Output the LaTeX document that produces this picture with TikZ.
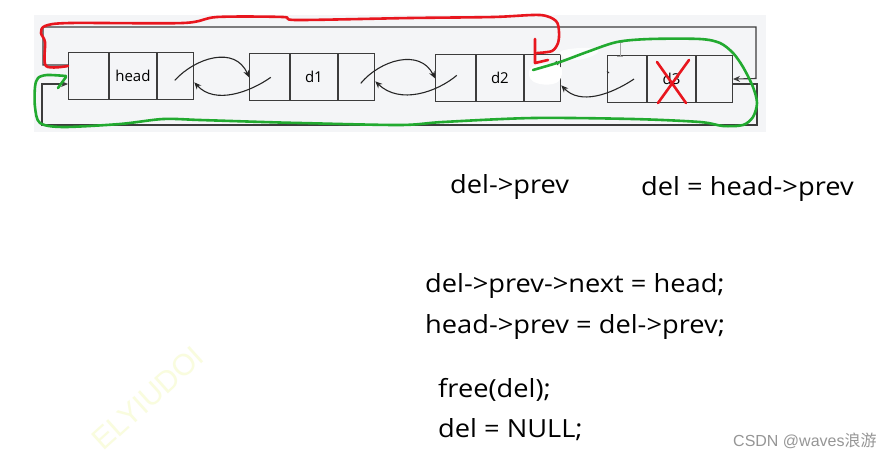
\documentclass[tikz,border=0pt]{standalone}
\usepackage{fontspec}
\setmainfont{Open Sans}
\newfontfamily\codefont[FakeStretch=1.09]{Open Sans}
\newfontfamily\wmfont{Liberation Sans}
\newfontfamily\cjkfont{Noto Sans CJK SC}
\usetikzlibrary{arrows.meta,calc}
\definecolor{panel}{RGB}{244,245,247}
\definecolor{boxline}{RGB}{60,60,60}
\definecolor{penred}{RGB}{232,22,30}
\definecolor{pengreen}{RGB}{34,170,48}
\definecolor{wmgray}{RGB}{150,150,150}
\definecolor{wmyellow}{RGB}{249,252,222}
\tikzset{
  cell/.style={draw=boxline, line width=1.1pt, inner sep=0pt, minimum height=47pt, anchor=north west, font=\fontsize{15}{15}\selectfont},
  pcell/.style={cell, minimum width=39.5pt},
  dcell/.style={cell, minimum width=47.5pt},
  ncell/.style={cell, minimum width=36pt},
  ptr/.style={draw=black!85, line width=1.1pt, -{Stealth[length=7pt,width=6pt]}},
  loopline/.style={draw=boxline, line width=1.1pt},
  redpen/.style={draw=penred, line width=2.6pt, line cap=round, line join=round},
  greenpen/.style={draw=pengreen, line width=2.6pt, line cap=round, line join=round},
  code/.style={anchor=base west, inner sep=0pt, font=\codefont\fontsize{25}{25}\selectfont}
}
\begin{document}
\begin{tikzpicture}[x=1pt,y=-1pt]
\useasboundingbox (0,0) rectangle (889,459);
\fill[white] (0,0) rectangle (889,459);
% panel
\fill[panel] (34,15) rectangle (766,132);
% watermark
\node[rotate=42, text=wmyellow, font=\wmfont\fontsize{30}{30}\selectfont, inner sep=0pt] (wm) at (148,398) {ELYIUDOI};
% cells
\node[pcell] (hp) at (68,52.3) {};
\node[dcell] (hd) at (hp.north east) {head};
\node[ncell] (hn) at (hd.north east) {};
\node[pcell] (ap) at (249,53.3) {};
\node[dcell] (ad) at (ap.north east) {d1};
\node[ncell] (an) at (ad.north east) {};
\node[pcell] (bp) at (435,54.3) {};
\node[dcell] (bd) at (bp.north east) {d2};
\node[ncell] (bn) at (bd.north east) {};
\node[pcell] (cp) at (606.7,55) {};
\node[dcell] (cd) at (cp.north east) {d3};
\node[ncell] (cn) at (cd.north east) {};
% outer loops
\coordinate (tl) at (43,65);
\coordinate (bl) at (42,84);
\draw[loopline, -{Stealth[length=7pt,width=6pt]}] (hp.west |- tl) -- (tl) -- (43,27) -- (756,27) -- (756,78.5) -- (cn.east);
\draw[loopline, -{Stealth[length=7pt,width=6pt]}] (cn.east |- bl) -- (757,84) -- (757,125) -- (42,125) -- (bl) -- (hp.west |- bl);
% pointers
\draw[ptr] ([shift={(-1,4)}]hn.center) .. controls (195,58) and (235,45) .. (ap.west);
\draw[ptr] ([shift={(1.5,0)}]ap.center) .. controls (250,92) and (215,105) .. ([yshift=-6pt]hn.east);
\draw[ptr] ([shift={(4,6)}]an.center) .. controls (380,60) and (420,48) .. (bp.west);
\draw[ptr] ([shift={(1.5,-3)}]bp.center) .. controls (437,92) and (400,105) .. ([yshift=-4pt]an.east);
\draw[ptr] ([shift={(7,0)}]cp.center) .. controls (610,95) and (580,105) .. ([yshift=-7pt]bn.east);
% erased patch
\fill[white] plot[smooth cycle, tension=0.7] coordinates {(531,68) (545,64) (559,66) (562,74) (556,83) (540,84) (530,78)};
\fill[white, opacity=0.8] plot[smooth cycle, tension=0.7] coordinates {(560,52) (580,48) (598,50) (590,57) (570,60)};
% remnants
\draw[black!80, line width=1pt] (556,61) -- (558,65);
\draw[black!80, line width=1pt] (607,71) -- (609,73);
% cursor
\draw[gray!70, line width=1pt] (620,42) -- (620,56) (617,42) -- (623,42) (617,56) -- (623,56);
% red strokes
\draw[redpen] plot[smooth, tension=0.5] coordinates {(68,66) (46,66) (45,42) (41,33) (45,26) (70,23) (183,23) (217,17) (283,17) (297,20) (410,18) (493,17) (540,15) (556,21) (559,32) (558,43) (552,51) (537,53)};
\draw[redpen] (535,39) -- (535,63) -- (548,60);
\draw[redpen] (657,62) -- (686,103);
\draw[redpen] (689,60) -- (658,103);
% green stroke
\draw[greenpen] plot[smooth, tension=0.5] coordinates {(533,70) (560,62) (587,52) (617,42) (650,39) (700,39) (720,43) (733,53) (743,67) (753,87) (757,103) (753,117) (743,125) (723,126) (700,122) (633,119) (533,118) (443,122) (400,125) (300,123) (263,122) (200,120) (163,119) (120,124) (63,127) (40,123) (35,107) (35,87) (38,78) (47,75) (66,76)};
\draw[greenpen] (66,77) -- (58,88);
% texts
\node[code] (t1) at (450,193) {del->prev};
\node[code] (t2) at (641,195) {del = head->prev};
\node[code] (t3) at (425,292) {del->prev->next = head;};
\node[code] (t4) at (425,333) {head->prev = del->prev;};
\node[code] (t5) at (438,397) {free(del);};
\node[code] (t6) at (438,437) {del = NULL;};
\node[anchor=base west, inner sep=0pt, text=wmgray, font=\wmfont\fontsize{16}{16}\selectfont] (csdn) at (733,446) {CSDN @waves{\cjkfont 浪游}};
\end{tikzpicture}
\end{document}
